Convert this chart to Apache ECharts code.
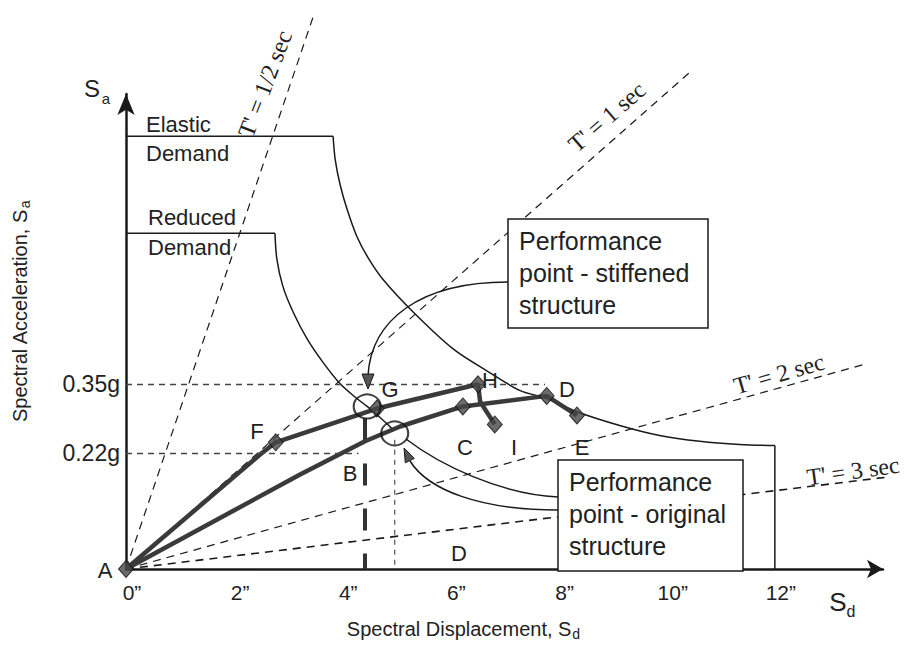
<!DOCTYPE html>
<html>
<head>
<meta charset="utf-8">
<script src="https://cdn.jsdelivr.net/npm/echarts@6/dist/echarts.min.js"></script>
<style>
  html, body { margin: 0; padding: 0; background: #fff; }
  #chart { width: 912px; height: 646px; }
</style>
</head>
<body>
<div id="chart"></div>
<script>
// Capacity spectrum method: demand spectra, capacity curves and constant-period lines.
// Spectral displacement Sd in inches, spectral acceleration Sa in g.

const xTicks = [0, 2, 4, 6, 8, 10, 12];

// Constant-period radial lines from the origin
const periodNames = ["T' = 1/2 sec", "T' = 1 sec", "T' = 2 sec", "T' = 3 sec"];
const periodEnds = [[3.49, 1.055], [10.47, 0.945], [13.70, 0.389], [14.31, 0.177]];

// Elastic demand spectrum
const elasticPlateau = [[0, 0.82], [3.83, 0.82]];
const elasticCurve = [[3.83, 0.82], [3.87, 0.775], [3.96, 0.728], [4.09, 0.681], [4.27, 0.630],
  [4.47, 0.591], [4.75, 0.549], [5.31, 0.487], [6.05, 0.417], [6.68, 0.375], [7.29, 0.338],
  [7.79, 0.323], [8.34, 0.298], [9.13, 0.272], [9.87, 0.253], [10.61, 0.242], [11.35, 0.236],
  [12.0, 0.234]];
const elasticDrop = [[12.0, 0.234], [12.0, 0]];

// Reduced demand spectrum
const reducedPlateau = [[0, 0.636], [2.755, 0.636]];
const reducedCurve = [[2.755, 0.636], [2.79, 0.587], [2.90, 0.536], [3.09, 0.487], [3.35, 0.436],
  [3.64, 0.392], [3.96, 0.351], [4.27, 0.323], [4.46, 0.308], [4.70, 0.287], [4.92, 0.266]];

// Capacity curves (A-F-G-H-I stiffened, A-B-C-D-E original)
const stiffenedCurve = [[0, 0], [2.48, 0.217], [2.77, 0.240], [4.64, 0.304], [6.51, 0.35],
  [6.55, 0.317], [6.82, 0.274]];
const stiffenedNodes = [0, 2, 3, 4, 6];
const originalCurve = [[0, 0], [3.22, 0.179], [4.42, 0.242], [5.07, 0.270], [6.23, 0.308],
  [7.78, 0.328], [8.34, 0.291]];
const originalNodes = [4, 5, 6];

// Performance points
const perfStiffened = [4.46, 0.308];
const perfOriginal = [4.97, 0.257];

// Reference acceleration levels and how far their guides run (Sd)
const saLevels = [0.35, 0.22];
const saLevelReach = [7.75, 4.3];

// Displacement marker at B
const bDisp = 4.42;
const bTop = 0.285;

const sans = '"Liberation Sans", Arial, Helvetica, sans-serif';
const serif = '"Liberation Serif", "Times New Roman", serif';
const ink = '#1a1a1a';

const chart = echarts.init(document.getElementById('chart'), null, { renderer: 'svg' });

function path(name, data, lineStyle, extra) {
  return Object.assign({
    type: 'line', name: name, data: data, symbol: 'none', silent: true,
    animation: false, clip: false, lineStyle: lineStyle, z: 3
  }, extra || {});
}

const series = [];

periodEnds.forEach(function (end, i) {
  series.push(path(periodNames[i], [[0, 0], end],
    { color: ink, width: i === 3 ? 1.6 : 1.2, type: [8, 6] }, { z: 1 }));
});

const demandStyle = { color: ink, width: 1.5 };
series.push(path('Elastic plateau', elasticPlateau, demandStyle));
series.push(path('Elastic demand', elasticCurve, demandStyle, { smooth: 0.3 }));
series.push(path('Elastic limit', elasticDrop, demandStyle));
series.push(path('Reduced plateau', reducedPlateau, demandStyle));
series.push(path('Reduced demand', reducedCurve, demandStyle, { smooth: 0.3 }));

// Sa guide lines with their tick labels
series.push({
  type: 'line', name: 'levels', data: [], silent: true, animation: false,
  markLine: {
    silent: true, animation: false, symbol: ['none', 'none'],
    lineStyle: { color: '#444', width: 1.4, type: [6, 5] },
    label: {
      show: true, position: 'start', distance: 6, color: '#222',
      fontFamily: sans, fontSize: 23, padding: [0, 0, 14, 0],
      formatter: function (p) { return p.name; }
    },
    data: saLevels.map(function (v, i) {
      return [{ coord: [0, v], name: v.toFixed(2) + 'g' }, { coord: [saLevelReach[i], v] }];
    })
  }
});

series.push(path('Performance Sd', [[perfOriginal[0], perfOriginal[1] - 0.012], [perfOriginal[0], 0]],
  { color: '#444', width: 1.1, type: [5, 5] }));
series.push(path('B', [[bDisp, bTop], [bDisp, 0]],
  { color: '#333', width: 4, type: [22, 23] }));

const capStyle = { color: '#3a3a3a', width: 4.5 };
series.push(path('Stiffened capacity', stiffenedCurve, capStyle, { z: 4 }));
series.push(path('Original capacity', originalCurve, capStyle, { z: 4 }));

series.push({
  type: 'scatter', name: 'nodes', silent: true, animation: false, z: 5,
  symbol: 'diamond', symbolSize: [15, 17],
  itemStyle: { color: '#474747', borderColor: '#111', borderWidth: 1 },
  data: stiffenedNodes.map(function (k) { return stiffenedCurve[k]; })
    .concat(originalNodes.map(function (k) { return originalCurve[k]; }))
});

series.push({
  type: 'scatter', name: 'performance points', silent: true, animation: false, z: 6,
  symbol: 'circle', symbolSize: [27, 24],
  itemStyle: { color: 'rgba(255,255,255,0)', borderColor: '#111', borderWidth: 2 },
  data: [perfStiffened, perfOriginal]
});

function txt(text, x, y, size, opts) {
  opts = opts || {};
  return {
    type: 'text', x: x, y: y, z: 100, silent: true,
    rotation: (opts.rot || 0) * Math.PI / 180,
    style: {
      text: text, fill: opts.color || '#222',
      font: (opts.style || '') + ' ' + size + 'px ' + (opts.family || sans),
      textAlign: opts.align || 'center', align: opts.align || 'center',
      textVerticalAlign: opts.valign || 'middle', verticalAlign: opts.valign || 'middle',
      lineHeight: opts.lineHeight
    }
  };
}

const graphics = [
  // annotation boxes
  { type: 'rect', z: 90, silent: true, shape: { x: 508, y: 219, width: 200, height: 109 },
    style: { fill: '#fff', stroke: ink, lineWidth: 1.5 } },
  txt('Performance\npoint - stiffened\nstructure', 519, 225, 25, { align: 'left', valign: 'top', lineHeight: 32 }),
  { type: 'rect', z: 90, silent: true, shape: { x: 558, y: 460, width: 185, height: 111 },
    style: { fill: '#fff', stroke: ink, lineWidth: 1.5 } },
  txt('Performance\npoint - original\nstructure', 569, 466, 25, { align: 'left', valign: 'top', lineHeight: 32 }),

  // leader arrows
  { type: 'bezierCurve', z: 95, silent: true,
    shape: { x1: 508, y1: 282, cpx1: 420, cpy1: 282, cpx2: 371, cpy2: 320, x2: 368, y2: 376 },
    style: { stroke: ink, lineWidth: 1.5, fill: null } },
  { type: 'polygon', z: 96, silent: true, shape: { points: [[362, 374], [374, 374], [368, 389]] },
    style: { fill: '#555', stroke: ink, lineWidth: 1 } },
  { type: 'bezierCurve', z: 95, silent: true,
    shape: { x1: 406, y1: 439, cpx1: 440, cpy1: 465, cpx2: 500, cpy2: 494, x2: 558, y2: 497 },
    style: { stroke: ink, lineWidth: 1.5, fill: null } },
  { type: 'bezierCurve', z: 95, silent: true,
    shape: { x1: 558, y1: 510, cpx1: 480, cpy1: 510, cpx2: 428, cpy2: 490, x2: 410, y2: 461 },
    style: { stroke: ink, lineWidth: 1.5, fill: null } },
  { type: 'polygon', z: 96, silent: true, shape: { points: [[404, 448], [414.3, 458.4], [405.3, 462.8]] },
    style: { fill: '#555', stroke: ink, lineWidth: 1 } },

  // demand labels
  txt('Elastic', 146, 124, 22, { align: 'left' }),
  txt('Demand', 146, 153, 22, { align: 'left' }),
  txt('Reduced', 148, 217, 22, { align: 'left' }),
  txt('Demand', 148, 247, 22, { align: 'left' }),

  // point letters
  txt('A', 105, 570, 22), txt('B', 350, 473, 22), txt('C', 465, 447, 22),
  txt('D', 567, 389, 22), txt('E', 582, 447, 22), txt('F', 257, 431, 22),
  txt('G', 390, 389, 22), txt('H', 490, 380, 22), txt('I', 514, 447, 22),
  txt('D', 459, 553, 22),

  // period line labels, set just off their lines
  txt(periodNames[0], 265, 84, 24, { family: serif, rot: 69 }),
  txt(periodNames[1], 607, 117, 24, { family: serif, rot: 41 }),
  txt(periodNames[2], 779, 374, 24, { family: serif, rot: 16 }),
  txt(periodNames[3], 853, 471, 24, { family: serif, rot: 8 }),

  // axis end symbols
  txt('S', 92, 88, 24), txt('a', 106, 98, 15),
  txt('S', 838, 602, 26), txt('d', 851, 611, 16)
];

chart.setOption({
  animation: false,
  backgroundColor: '#fff',
  grid: { left: 126, right: 29, top: 94, bottom: 75 },
  xAxis: {
    type: 'value', min: 0, max: 14, interval: 2,
    name: 'Spectral Displacement, S{sub|d}', nameLocation: 'middle', nameGap: 48,
    nameTextStyle: {
      fontFamily: sans, fontSize: 20, color: '#222', padding: [0, 82, 0, 0],
      rich: { sub: { fontFamily: sans, fontSize: 14, color: '#222', padding: [10, 0, 0, 1] } }
    },
    axisLine: { lineStyle: { color: ink, width: 2.5 }, symbol: ['none', 'arrow'], symbolSize: [14, 16] },
    axisTick: { show: false },
    splitLine: { show: false },
    axisLabel: {
      fontFamily: sans, fontSize: 21, color: '#222', margin: 13, padding: [0, 0, 0, 12],
      formatter: function (v) { return xTicks.indexOf(v) >= 0 ? v + '\u201D' : ''; }
    }
  },
  yAxis: {
    type: 'value', min: 0, max: 0.9,
    name: 'Spectral Acceleration, S{sub|a}', nameLocation: 'middle', nameGap: 94,
    nameTextStyle: {
      fontFamily: sans, fontSize: 20, color: '#222', padding: [0, 0, 0, 40],
      rich: { sub: { fontFamily: sans, fontSize: 14, color: '#222', padding: [10, 0, 0, 1] } }
    },
    axisLine: { show: true, lineStyle: { color: ink, width: 2.5 }, symbol: ['none', 'arrow'], symbolSize: [13, 21] },
    axisTick: { show: false },
    splitLine: { show: false },
    axisLabel: { show: false }
  },
  graphic: graphics,
  series: series
});
</script>
</body>
</html>
